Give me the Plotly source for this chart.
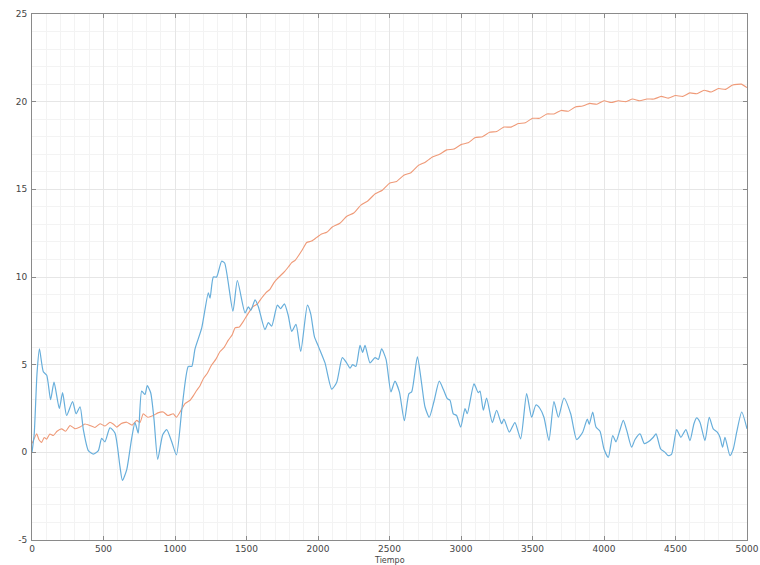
import plotly.graph_objects as go

# Blue series
blue_x = [0, 15, 35, 52, 79, 103, 130, 154, 191, 214, 242, 284, 308, 336, 359, 394, 429, 464, 487, 510,
          545, 580, 615, 632, 662, 697, 720, 743, 767, 790, 806, 830, 853, 879, 914, 942, 977, 1010, 1050, 1093,
          1117, 1140, 1187, 1233, 1245, 1268, 1291, 1326, 1347, 1405, 1436, 1490, 1513, 1530, 1560, 1583, 1629, 1653, 1676, 1716,
          1739, 1765, 1792, 1816, 1846, 1879, 1926, 1949, 1975, 2005, 2049, 2096, 2131, 2170, 2200, 2224, 2242, 2265, 2294, 2312,
          2329, 2364, 2399, 2422, 2445, 2476, 2510, 2538, 2569, 2604, 2636, 2655, 2695, 2725, 2748, 2778, 2811, 2848, 2876, 2904,
          2923, 2946, 2969, 2998, 3028, 3044, 3091, 3121, 3133, 3156, 3179, 3219, 3249, 3284, 3300, 3338, 3377, 3417, 3459, 3494,
          3524, 3552, 3580, 3615, 3650, 3681, 3720, 3767, 3809, 3851, 3883, 3897, 3921, 3944, 3972, 4000, 4030, 4061, 4084, 4107,
          4135, 4159, 4193, 4217, 4252, 4282, 4310, 4345, 4364, 4396, 4427, 4450, 4473, 4508, 4538, 4573, 4601, 4629, 4648, 4671,
          4706, 4736, 4764, 4792, 4811, 4829, 4846, 4881, 4904, 4928, 4963, 5000]
blue_y = [0.0, 1.0, 4.5, 5.9, 4.6, 4.4, 3.0, 4.0, 2.5, 3.4, 2.1, 2.9, 2.2, 2.6, 1.3, 0.1, -0.1, 0.1, 0.8, 0.6,
          1.4, 1.1, -0.8, -1.6, -1.0, 0.8, 1.7, 1.1, 3.5, 3.3, 3.8, 3.4, 1.9, -0.4, 1.0, 1.3, 0.6, -0.15, 2.6, 4.9,
          4.9, 5.9, 7.1, 9.1, 8.8, 10.0, 10.0, 10.9, 10.8, 8.05, 9.8, 7.95, 8.3, 8.1, 8.7, 8.3, 7.0, 7.4, 7.2, 8.4,
          8.2, 8.47, 7.8, 6.9, 7.3, 5.75, 8.4, 7.9, 6.6, 6.0, 5.1, 3.6, 4.0, 5.4, 5.1, 4.8, 5.0, 4.9, 6.1, 5.7,
          6.1, 5.1, 5.4, 5.3, 5.9, 5.3, 3.45, 4.06, 3.45, 1.8, 3.35, 3.45, 5.45, 3.9, 2.6, 2.0, 2.9, 4.06, 3.6, 3.06,
          2.97, 2.2, 2.1, 1.44, 2.5, 2.2, 3.9, 3.4, 3.5, 2.4, 3.1, 1.7, 2.4, 1.63, 1.9, 1.15, 1.7, 0.77, 3.35, 2.0,
          2.7, 2.5, 2.0, 0.67, 2.9, 2.0, 3.1, 2.2, 0.73, 1.15, 1.9, 1.6, 2.3, 1.44, 1.2, 0.19, -0.29, 0.96, 0.6, 1.15,
          1.82, 1.25, 0.29, 0.73, 1.05, 0.5, 0.6, 0.86, 1.05, 0.19, 0.0, -0.19, -0.1, 1.3, 0.86, 1.3, 0.67, 1.63, 1.96, 1.72,
          0.67, 2.0, 1.34, 1.15, 0.86, 0.29, 0.86, -0.19, 0.19, 1.15, 2.3, 1.34]

# Orange series
orange_x = [0, 33, 50, 68, 85, 103, 125, 149, 175, 207, 235, 266, 300, 336, 370, 406, 440, 476, 510, 545,
            570, 592, 625, 662, 700, 732, 755, 778, 810, 848, 880, 918, 950, 988, 1010, 1035, 1070, 1105, 1130, 1152,
            1175, 1198, 1225, 1256, 1285, 1315, 1345, 1373, 1400, 1420, 1450, 1478, 1510, 1548, 1575, 1606, 1635, 1664, 1690, 1711,
            1740, 1769, 1795, 1816, 1840, 1862, 1886, 1921, 1955, 1991, 2025, 2061, 2100, 2150, 2200, 2250, 2300, 2350, 2400, 2450,
            2500, 2550, 2600, 2650, 2700, 2750, 2800, 2850, 2900, 2950, 3000, 3050, 3100, 3150, 3200, 3250, 3300, 3350, 3400, 3450,
            3500, 3550, 3600, 3650, 3700, 3750, 3800, 3850, 3900, 3950, 4000, 4050, 4100, 4150, 4200, 4250, 4300, 4350, 4400, 4450,
            4500, 4550, 4600, 4650, 4700, 4750, 4800, 4850, 4900, 4960, 5000]
orange_y = [0.5, 1.05, 0.7, 0.57, 0.85, 0.75, 1.05, 0.96, 1.2, 1.34, 1.2, 1.53, 1.35, 1.44, 1.62, 1.53, 1.42, 1.63, 1.5, 1.72,
            1.6, 1.44, 1.65, 1.72, 1.55, 1.82, 1.7, 2.2, 2.0, 2.1, 2.25, 2.3, 2.1, 2.2, 2.0, 2.3, 2.78, 2.97, 3.25, 3.54,
            3.8, 4.2, 4.5, 4.98, 5.3, 5.75, 6.0, 6.4, 6.7, 7.1, 7.15, 7.47, 7.9, 8.33, 8.45, 8.8, 9.1, 9.3, 9.65, 9.87,
            10.1, 10.34, 10.6, 10.82, 10.95, 11.2, 11.5, 11.97, 12.05, 12.26, 12.45, 12.55, 12.85, 13.05, 13.45, 13.65, 14.1, 14.35, 14.75, 14.95,
            15.35, 15.45, 15.8, 15.95, 16.35, 16.55, 16.85, 17.0, 17.25, 17.3, 17.55, 17.65, 17.95, 18.0, 18.25, 18.3, 18.55, 18.55, 18.75, 18.8,
            19.05, 19.05, 19.3, 19.3, 19.5, 19.45, 19.7, 19.75, 19.9, 19.85, 20.05, 19.95, 20.05, 20.0, 20.15, 20.05, 20.15, 20.15, 20.3, 20.2,
            20.35, 20.3, 20.5, 20.45, 20.65, 20.55, 20.75, 20.7, 20.95, 21.0, 20.8]

x_ticks = [0, 500, 1000, 1500, 2000, 2500, 3000, 3500, 4000, 4500, 5000]
y_ticks = [-5, 0, 5, 10, 15, 20, 25]
x_title = "Tiempo"

fig = go.Figure()
fig.add_trace(go.Scatter(x=orange_x, y=orange_y, mode="lines",
                         line=dict(color="#ef9a78", width=1.1, shape="spline", smoothing=0.4)))
fig.add_trace(go.Scatter(x=blue_x, y=blue_y, mode="lines",
                         line=dict(color="#67aedb", width=1.2, shape="spline", smoothing=0.6)))

axis_common = dict(
    showline=True, linecolor="#8a8a8a", linewidth=1, mirror="ticks",
    ticks="inside", ticklen=4, tickcolor="#8a8a8a",
    showgrid=True, gridcolor="#e6e6e6", gridwidth=1,
    zeroline=False, automargin=False,
    tickfont=dict(family="DejaVu Sans", size=9, color="#444444"),
)

fig.update_xaxes(range=[0, 5000], tickvals=x_ticks, ticktext=[str(v) for v in x_ticks],
                 minor=dict(dtick=100, showgrid=True, gridcolor="#f3f3f3", ticks=""),
                 **axis_common)
fig.update_yaxes(range=[-5, 25], tickvals=y_ticks, ticktext=[str(v) for v in y_ticks],
                 minor=dict(dtick=1, showgrid=True, gridcolor="#f3f3f3", ticks=""),
                 ticklabelstandoff=2,
                 **axis_common)

fig.add_annotation(text=x_title, xref="paper", yref="paper", x=0.5, y=-0.039,
                   xanchor="center", yanchor="middle", showarrow=False,
                   font=dict(family="DejaVu Sans", size=8, color="#444444"))

fig.update_layout(
    width=760, height=565,
    margin=dict(l=32, r=13, t=14, b=25),
    plot_bgcolor="white", paper_bgcolor="white",
    showlegend=False,
)

fig.write_html("out.html", config={"displayModeBar": False},
               post_script="document.body.style.margin='0';document.body.style.overflow='hidden';")
